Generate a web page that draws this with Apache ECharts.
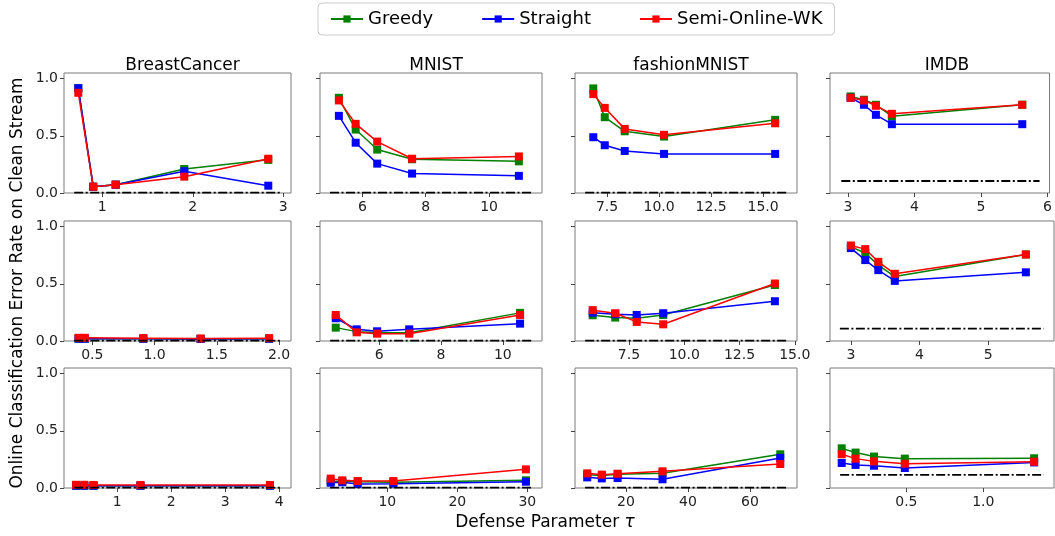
<!DOCTYPE html>
<html><head><meta charset="utf-8">
<script src="https://cdn.jsdelivr.net/npm/echarts@6/dist/echarts.min.js"></script>
<style>html,body{margin:0;padding:0;background:#fff}#c{width:1055px;height:536px}</style>
</head><body><div id="c"></div>
<script>
// ---------- data ----------
const seriesNames = ['Greedy', 'Straight', 'Semi-Online-WK'];
const datasetTitles = ['BreastCancer', 'MNIST', 'fashionMNIST', 'IMDB'];
// panels in row-major order (3 rows x 4 datasets)
const tauX = [
  [0.735, 0.90, 1.148, 1.906, 2.834],
  [5.26, 5.79, 6.47, 7.57, 10.94],
  [6.84, 7.39, 8.35, 10.24, 15.58],
  [3.04, 3.24, 3.42, 3.66, 5.62],
  [0.39, 0.44, 0.91, 1.37, 1.92],
  [4.59, 5.27, 5.93, 6.97, 10.56],
  [5.86, 6.88, 7.85, 9.05, 14.1],
  [3.0, 3.21, 3.40, 3.64, 5.55],
  [0.237, 0.39, 0.56, 1.43, 3.83],
  [1.91, 3.57, 5.77, 10.86, 29.8],
  [7.5, 12.2, 17.3, 31.8, 69.8],
  [0.08, 0.17, 0.29, 0.49, 1.33]
];
const greedy = [
  [0.917, 0.055, 0.073, 0.21, 0.29],
  [0.833, 0.555, 0.38, 0.295, 0.277],
  [0.915, 0.663, 0.54, 0.494, 0.64],
  [0.845, 0.816, 0.772, 0.672, 0.772],
  [0.02, 0.02, 0.02, 0.018, 0.02],
  [0.117, 0.082, 0.075, 0.072, 0.246],
  [0.225, 0.205, 0.2, 0.228, 0.49],
  [0.825, 0.769, 0.664, 0.564, 0.757],
  [0.02, 0.02, 0.02, 0.02, 0.02],
  [0.06, 0.058, 0.055, 0.05, 0.067],
  [0.117, 0.11, 0.12, 0.13, 0.295],
  [0.347, 0.31, 0.275, 0.257, 0.26]
];
const straight = [
  [0.917, 0.055, 0.073, 0.19, 0.064],
  [0.675, 0.44, 0.257, 0.17, 0.15],
  [0.488, 0.418, 0.368, 0.342, 0.342],
  [0.833, 0.772, 0.684, 0.602, 0.602],
  [0.02, 0.02, 0.02, 0.018, 0.02],
  [0.199, 0.102, 0.085, 0.102, 0.152],
  [0.248, 0.234, 0.228, 0.243, 0.348],
  [0.813, 0.708, 0.62, 0.526, 0.601],
  [0.02, 0.02, 0.02, 0.02, 0.02],
  [0.046, 0.05, 0.035, 0.038, 0.055],
  [0.093, 0.084, 0.087, 0.076, 0.263],
  [0.219, 0.202, 0.195, 0.175, 0.224]
];
const semiOnline = [
  [0.877, 0.055, 0.073, 0.143, 0.30],
  [0.81, 0.605, 0.45, 0.30, 0.32],
  [0.865, 0.745, 0.561, 0.509, 0.61],
  [0.833, 0.81, 0.763, 0.693, 0.772],
  [0.028, 0.028, 0.025, 0.022, 0.025],
  [0.228, 0.076, 0.064, 0.064, 0.228],
  [0.27, 0.243, 0.167, 0.146, 0.503],
  [0.836, 0.804, 0.693, 0.588, 0.757],
  [0.028, 0.028, 0.026, 0.026, 0.026],
  [0.082, 0.067, 0.061, 0.061, 0.163],
  [0.128, 0.117, 0.125, 0.146, 0.21],
  [0.295, 0.257, 0.233, 0.213, 0.23]
];
// clean-stream error (dash-dot reference) and its tau span
const cleanErr = [0.003, 0.003, 0.003, 0.105, 0.004, 0.003, 0.003, 0.108, 0.004, 0.003, 0.003, 0.115];
const cleanSpan = [
  [0.69, 2.97], [4.98, 11.35], [6.45, 16.15], [2.9, 5.88],
  [0.356, 2.013], [4.41, 10.94], [5.52, 14.64], [2.84, 5.81],
  [0.204, 4.03], [1.83, 30.66], [6.8, 71.9], [0.07, 1.393]
];
const xLimits = [
  [0.577, 3.085], [4.664, 11.67], [5.96, 16.63], [2.73, 6.03],
  [0.273, 2.096], [4.08, 11.27], [5.06, 15.1], [2.696, 5.96],
  [0.013, 4.22], [0.386, 32.1], [3.55, 75.2], [0.004, 1.459]
];
const xTicks = [
  [1, 2, 3], [6, 8, 10], [7.5, 10, 12.5, 15], [3, 4, 5, 6],
  [0.5, 1, 1.5, 2], [6, 8, 10], [7.5, 10, 12.5, 15], [3, 4, 5],
  [1, 2, 3, 4], [10, 20, 30], [20, 40, 60], [0.5, 1.0]
];
const xTickDecimals = [0, 0, 1, 0, 1, 0, 1, 0, 0, 0, 0, 1];
const yTicks = [0, 0.5, 1.0];

// ---------- layout / style ----------
const colLeft = [64, 320, 575, 830];
const colWidth = [227, 222, 222, 224];
const rowTop = [73, 221, 368];
const rowHeight = 120;
const colors = ['#008000', '#0000ff', '#ff0000'];
const FF = 'DejaVu Sans';

const grids = [], xAxes = [], yAxes = [], series = [];
for (let i = 0; i < 12; i++) {
  const r = Math.floor(i / 4), c = i % 4;
  grids.push({left: colLeft[c], top: rowTop[r], width: colWidth[c], height: rowHeight,
    show: true, borderColor: '#7a7a7a', borderWidth: 1, backgroundColor: '#fff'});
  xAxes.push({type: 'value', gridIndex: i, min: xLimits[i][0], max: xLimits[i][1],
    axisLine: {show: false}, splitLine: {show: false},
    axisTick: {show: true, customValues: xTicks[i], length: 4, lineStyle: {color: '#444'}},
    axisLabel: {customValues: xTicks[i], formatter: v => v.toFixed(xTickDecimals[i]),
      fontSize: 14, color: '#222', margin: 7, fontFamily: FF}});
  yAxes.push({type: 'value', gridIndex: i, min: 0, max: 1.05,
    axisLine: {show: false}, splitLine: {show: false},
    axisTick: {show: true, customValues: yTicks, length: 4, lineStyle: {color: '#444'}},
    axisLabel: {show: c === 0, customValues: yTicks, formatter: v => v.toFixed(1),
      fontSize: 14, color: '#222', margin: 6, fontFamily: FF}});
  [greedy, straight, semiOnline].forEach((arr, s) => {
    series.push({type: 'line', name: seriesNames[s], xAxisIndex: i, yAxisIndex: i,
      data: tauX[i].map((x, k) => [x, arr[i][k]]),
      symbol: 'rect', symbolSize: 8, showSymbol: true, clip: false,
      lineStyle: {width: 1.5, color: colors[s]}, itemStyle: {color: colors[s]},
      z: 2 + s, animation: false});
  });
  series.push({type: 'line', xAxisIndex: i, yAxisIndex: i,
    data: [[cleanSpan[i][0], cleanErr[i]], [cleanSpan[i][1], cleanErr[i]]],
    symbol: 'none', silent: true, clip: false,
    lineStyle: {width: 1.8, color: '#000', type: [9, 2.5, 2, 2.5]}, z: 6, animation: false});
}

const titles = datasetTitles.map((t, c) => ({text: t, left: colLeft[c] + colWidth[c] / 2, top: 52,
  textAlign: 'center', textStyle: {fontSize: 17, fontWeight: 'normal', color: '#000', fontFamily: FF}}));

const chart = echarts.init(document.getElementById('c'), null, {renderer: 'canvas'});
chart.setOption({
  animation: false,
  backgroundColor: '#fff',
  title: titles,
  legend: {data: seriesNames, top: 3, left: 318, itemWidth: 32, itemHeight: 9, itemGap: 48,
    borderColor: '#cccccc', borderWidth: 1, borderRadius: 4, padding: [7, 12],
    textStyle: {fontSize: 18, color: '#000', fontFamily: FF}},
  grid: grids, xAxis: xAxes, yAxis: yAxes, series: series,
  graphic: [
    {type: 'text', x: 18, y: 283, rotation: Math.PI / 2,
      style: {text: 'Online Classification Error Rate on Clean Stream', fontSize: 17, fontFamily: FF,
        fill: '#000', align: 'center', verticalAlign: 'middle'}},
    {type: 'text', x: 545, y: 523,
      style: {text: 'Defense Parameter {i|τ}', fontSize: 17, fontFamily: FF, fill: '#000',
        align: 'center', verticalAlign: 'middle',
        rich: {i: {fontStyle: 'italic', fontSize: 17, fontFamily: FF}}}}
  ]
});
</script></body></html>
